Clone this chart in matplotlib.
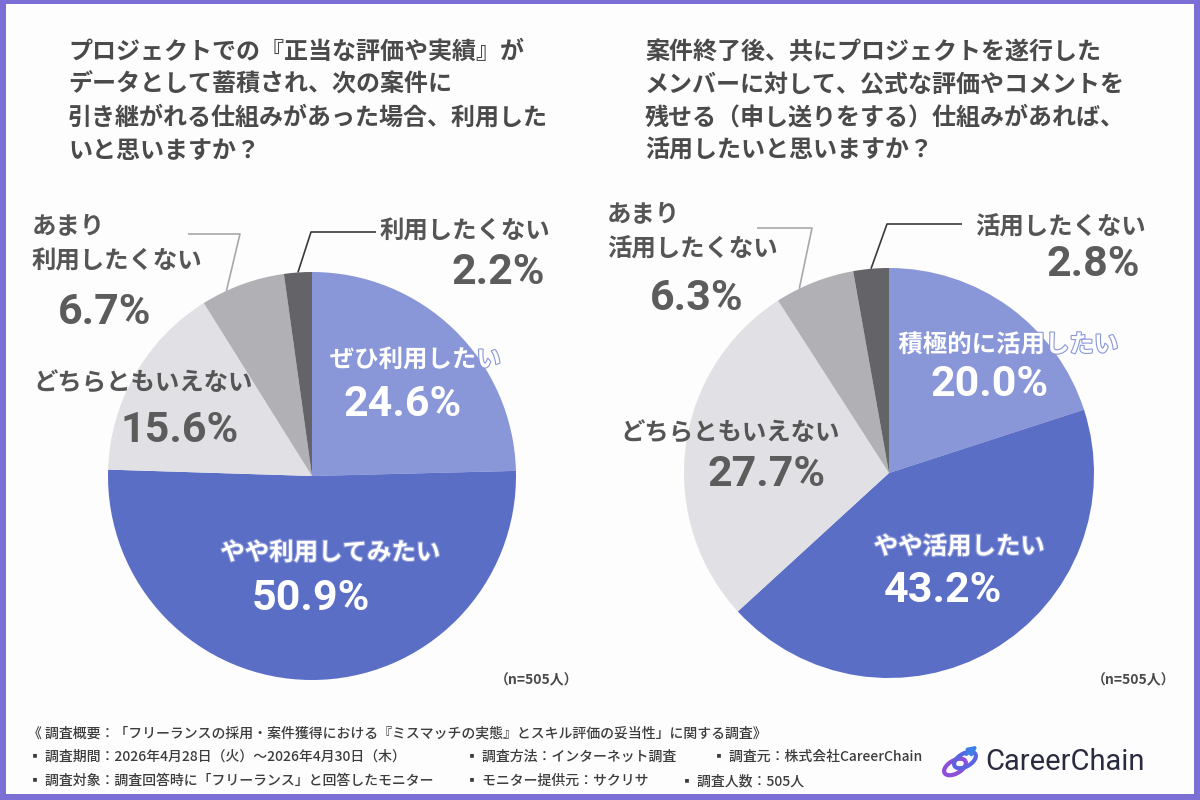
import numpy as np
import matplotlib
matplotlib.use('Agg')
import matplotlib.pyplot as plt
import matplotlib.patheffects as pe
from matplotlib.patches import Rectangle, Arc

plt.rcParams['font.family'] = ['Noto Sans CJK JP', 'DejaVu Sans']
NUMFONT = ['Roboto', 'DejaVu Sans']

#------------------------------------------------------------------------------
# data
left_title = ("プロジェクトでの『正当な評価や実績』が\n"
              "データとして蓄積され、次の案件に\n"
              "引き継がれる仕組みがあった場合、利用した\n"
              "いと思いますか？")
right_title = ("案件終了後、共にプロジェクトを遂行した\n"
               "メンバーに対して、公式な評価やコメントを\n"
               "残せる（申し送りをする）仕組みがあれば、\n"
               "活用したいと思いますか？")

left_labels = ["ぜひ利用したい", "やや利用してみたい", "どちらともいえない",
               "あまり\n利用したくない", "利用したくない"]
left_values = [24.6, 50.9, 15.6, 6.7, 2.2]

right_labels = ["積極的に活用したい", "やや活用したい", "どちらともいえない",
                "あまり\n活用したくない", "活用したくない"]
right_values = [20.0, 43.2, 27.7, 6.3, 2.8]

sample_note = "（n=505人）"

footer_lines = [
    [(28, "《 調査概要：「フリーランスの採用・案件獲得における『ミスマッチの実態』とスキル評価の妥当性」に関する調査》")],
    [(28, "▪ 調査期間：2026年4月28日（火）〜2026年4月30日（木）"),
     (465, "▪ 調査方法：インターネット調査"),
     (712, "▪ 調査元：株式会社CareerChain")],
    [(28, "▪ 調査対象：調査回答時に「フリーランス」と回答したモニター"),
     (465, "▪ モニター提供元：サクリサ"),
     (680, "▪ 調査人数：505人")],
]
footer_y = [733, 757, 781]
logo_text = "CareerChain"

#------------------------------------------------------------------------------
# style
COLORS = ['#8996d8', '#5a6ec6', '#e1e0e4', '#b1b0b5', '#636368']
BORDER = '#7b6fd6'
TXT = '#4a4a4a'
LBL = '#555555'
PCT = '#5c5c5c'

W, H = 1200, 800
fig = plt.figure(figsize=(12, 8), dpi=100)
fig.patch.set_facecolor(BORDER)

bg = fig.add_axes([0, 0, 1, 1])
bg.set_xlim(0, W)
bg.set_ylim(H, 0)
bg.axis('off')
bg.add_patch(Rectangle((6, 4), W - 12, H - 10, facecolor='#fdfdfd',
                       edgecolor='none'))


def pie_axes(cx, cy, r, values):
    ax = fig.add_axes([(cx - r) / W, (H - cy - r) / H, 2 * r / W, 2 * r / H])
    wedges, _ = ax.pie(values, colors=COLORS, startangle=90,
                       counterclock=False, radius=1,
                       wedgeprops=dict(linewidth=0))
    ax.set_xlim(-1, 1)
    ax.set_ylim(-1, 1)
    ax.set_aspect('equal')
    ax.axis('off')
    return ax, wedges


# pie centres/radius in pixels
lax, lw = pie_axes(312, 476, 204, left_values)
rax, rw = pie_axes(889, 473, 205, right_values)

ov = fig.add_axes([0, 0, 1, 1])
ov.set_xlim(0, W)
ov.set_ylim(H, 0)
ov.axis('off')
ov.patch.set_visible(False)


def edge_point(ax, wedge, frac):
    # point on the rim of a wedge, frac of the way from theta1 to theta2
    ang = np.deg2rad(wedge.theta1 + frac * (wedge.theta2 - wedge.theta1))
    disp = ax.transData.transform((np.cos(ang), np.sin(ang)))
    return ov.transData.inverted().transform(disp)


def leader(ax, wedge, frac, elbow, end, color):
    p = edge_point(ax, wedge, frac)
    ov.plot([p[0], elbow[0], end[0]], [p[1], elbow[1], end[1]],
            color=color, lw=1.2, solid_capstyle='butt')


# titles
ov.text(68, 40, left_title, fontsize=17.3, fontweight='bold', color=TXT,
        va='top', ha='left', linespacing=1.47)
ov.text(645, 40, right_title, fontsize=17.3, fontweight='bold', color=TXT,
        va='top', ha='left', linespacing=1.47)

# label layout: (label x, label y, ha, pct x, pct y, pct ha, colour)
left_pos = [
    (415, 360, 'center', 403, 405, 'center', 'white'),
    (330, 553, 'center', 311, 598, 'center', 'white'),
    (33, 383, 'left', 180, 430, 'center', LBL),
    (32, 244, 'left', 105, 313, 'center', LBL),
    (380, 232, 'left', 545, 272, 'right', LBL),
]
right_pos = [
    (1008, 345, 'center', 990, 385, 'center', 'white'),
    (959, 547, 'center', 943, 590, 'center', 'white'),
    (620, 433, 'left', 767, 475, 'center', LBL),
    (607, 232, 'left', 697, 298, 'center', LBL),
    (975, 228, 'left', 1140, 265, 'right', LBL),
]


def draw_labels(labels, values, pos):
    for lab, val, (lx, ly, lha, px, py, pha, col) in zip(labels, values, pos):
        pcol = 'white' if col == 'white' else PCT
        t = ov.text(lx, ly, lab, fontsize=17.6, fontweight='bold', color=col,
                    ha=lha, va='center', linespacing=1.6)
        if col == 'white':
            # outline keeps the label readable where it runs off the slice
            t.set_path_effects([pe.withStroke(linewidth=1.6,
                                              foreground=COLORS[0])])
        ov.text(px, py, f"{val:.1f}%", fontsize=31, fontweight='bold',
                color=pcol, ha=pha, va='center', family=NUMFONT)


draw_labels(left_labels, left_values, left_pos)
draw_labels(right_labels, right_values, right_pos)

# leader lines
leader(lax, lw[4], 0.5, (311, 232), (376, 232), '#3a3a3a')
leader(lax, lw[3], 0.7, (240, 234), (188, 234), '#a8a8a8')
leader(rax, rw[4], 0.5, (887, 224), (962, 224), '#3a3a3a')
leader(rax, rw[3], 0.7, (812, 228), (757, 228), '#a8a8a8')

# sample size
ov.text(578, 680, sample_note, fontsize=10, fontweight='bold', color=TXT,
        ha='right', va='center')
ov.text(1175, 680, sample_note, fontsize=10, fontweight='bold', color=TXT,
        ha='right', va='center')

# footer
for row, y in zip(footer_lines, footer_y):
    for x, s in row:
        ov.text(x, y, s, fontsize=10, fontweight='medium', color='#3c3c3c',
                ha='left', va='center')

# logo
ov.add_patch(Arc((955, 767), 24, 13, angle=-30, theta1=0, theta2=360,
                 color='#8c4fd8', lw=3))
ov.add_patch(Arc((965, 760), 24, 13, angle=-30, theta1=0, theta2=360,
                 color='#5a63e0', lw=3))
ov.annotate('', xy=(980, 744), xytext=(964, 756),
            arrowprops=dict(arrowstyle='-|>', color='#3f7ee6', lw=2.5,
                            mutation_scale=12))
ov.text(985, 762, logo_text, fontsize=21, color='#2b2b3f', ha='left',
        va='center', family=['Roboto', 'DejaVu Sans'])

fig.savefig('out.png', dpi=100, facecolor=fig.get_facecolor())
